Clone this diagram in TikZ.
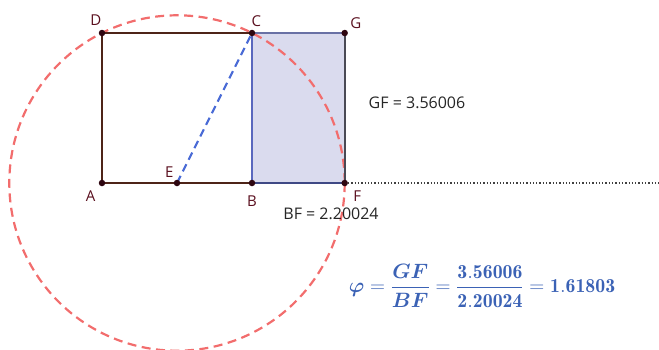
\documentclass[tikz,border=0pt]{standalone}
\usepackage{amsmath}
\usepackage{fontspec}
\setsansfont{Open Sans}
\usetikzlibrary{positioning,calc}
\definecolor{squarebrown}{HTML}{4E2418}
\definecolor{rectfill}{HTML}{DADBEE}
\definecolor{rectblue}{HTML}{5A68BE}
\definecolor{rectgray}{HTML}{4A4A55}
\definecolor{circlered}{HTML}{F26D6D}
\definecolor{chordblue}{HTML}{4A6BD6}
\definecolor{pointdark}{HTML}{2E0610}
\definecolor{labeldark}{HTML}{5A0F1E}
\definecolor{formulablue}{HTML}{3B62B5}
\newcommand{\phiratio}{$\displaystyle\boldsymbol{\varphi}=\frac{\boldsymbol{GF}}{\boldsymbol{BF}}=\frac{\mathbf{3.56006}}{\mathbf{2.20024}}=\mathbf{1.61803}$}

\begin{document}
\begin{tikzpicture}[
        x=1pt, y=-1pt,
        vertex/.style={circle, fill=pointdark, inner sep=0pt, minimum size=6.5pt},
        ptlabel/.style={font=\sffamily\fontsize{15}{18}\selectfont, text=labeldark, inner sep=1pt},
        measure/.style={font=\sffamily\fontsize{16}{19}\selectfont, text=black!85},
        sqedge/.style={squarebrown, line width=2.2pt},
        rectedge/.style={line width=1.8pt}
    ]
    \useasboundingbox (0,0) rectangle (659,349);
    \clip (0,0) rectangle (659,349);

    % === Points ===
    \coordinate (A) at (102,183);
    \coordinate (B) at (252,183);
    \coordinate (C) at (252,33);
    \coordinate (D) at (102,33);
    \coordinate (E) at (177,183);
    \coordinate (F) at (344.7,183);
    \coordinate (G) at (344.7,33);
    \coordinate (far) at (659,183);

    % === Golden rectangle BFGC ===
    \fill[rectfill] (B) rectangle (G);

    % === Arc through C and F, centred at E ===
    \draw[circlered, line width=2.2pt, dash pattern=on 9pt off 5.5pt]
        (E) circle[radius=167.7];

    % === Edges ===
    \draw[rectedge, rectblue] (B) -- (C);
    \draw[rectedge, rectblue!70!black] (B) -- (F);
    \draw[rectedge, rectblue!60!gray] (C) -- (G);
    \draw[rectedge, rectgray] (G) -- (F);
    \draw[sqedge] (A) -- (D) -- (C);
    \draw[sqedge] (A) -- (B);
    \draw[chordblue, line width=2.2pt, dash pattern=on 8pt off 5pt] (E) -- (C);
    \draw[black!75, line width=1.3pt, dotted] (F) -- (far);

    % === Point markers and labels ===
    \foreach \pname in {A,B,C,D,E,F,G} { \node[vertex] (\pname dot) at (\pname) {}; }
    \node[ptlabel, above left=4pt and -3pt of Ddot] (Dlab) {D};
    \node[ptlabel, above right=3pt and -4pt of Cdot] (Clab) {C};
    \node[ptlabel, above right=1pt and 2pt of Gdot] (Glab) {G};
    \node[ptlabel, above left=2pt and 0pt of Edot] (Elab) {E};
    \node[ptlabel, below left=4pt and 3pt of Adot] (Alab) {A};
    \node[ptlabel, below=8pt of Bdot] (Blab) {B};
    \node[ptlabel, below right=4pt and 5pt of Fdot] (Flab) {F};

    % === Measurements ===
    \node[measure] (gf) at (417,103) {GF = 3.56006};
    \node[measure] (bf) at (331,214) {BF = 2.20024};

    % === Ratio ===
    \node[text=formulablue, font=\fontsize{19.8}{24}\selectfont] (ratio) at (482,286) {\phiratio};

\end{tikzpicture}
\end{document}
